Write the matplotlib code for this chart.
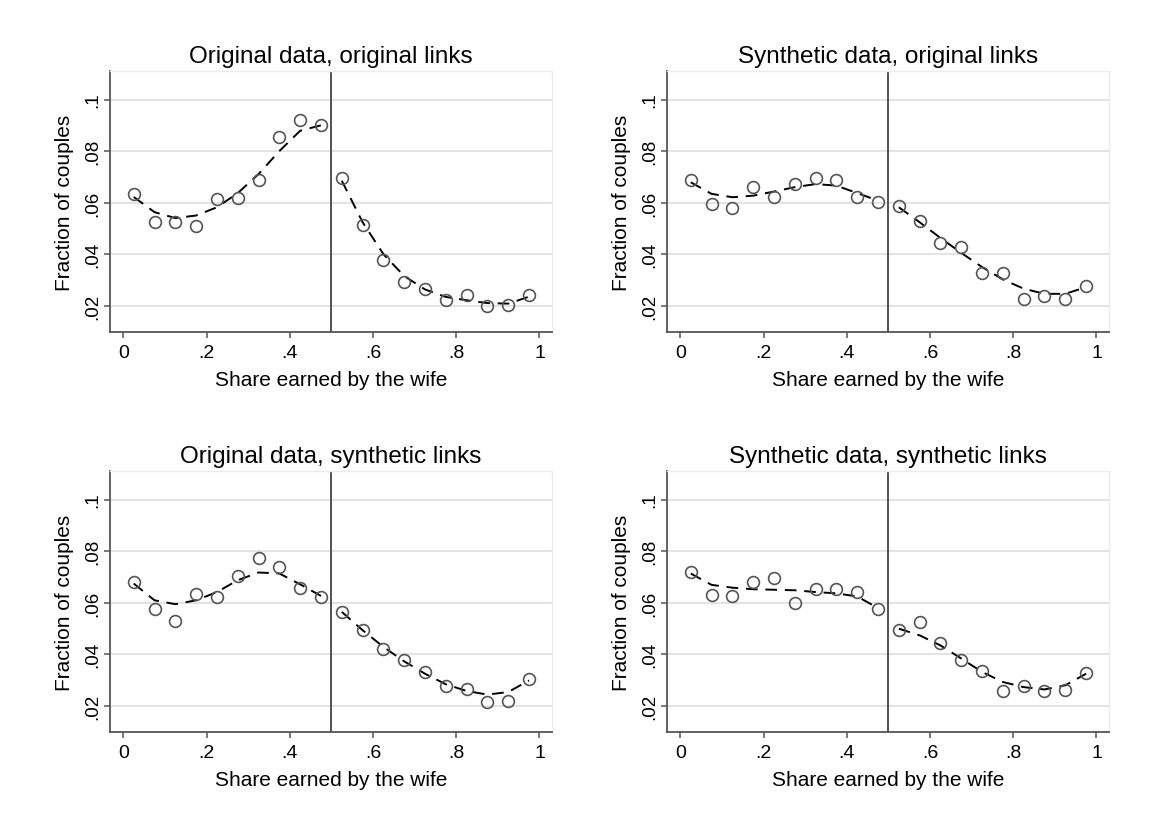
import numpy as np
import matplotlib.pyplot as plt

plt.rcParams['font.family'] = ['Liberation Sans', 'DejaVu Sans']

# bin centres of the wife's earnings share
share = [0.025, 0.075, 0.125, 0.175, 0.225, 0.275, 0.325, 0.375, 0.425, 0.475,
         0.525, 0.575, 0.625, 0.675, 0.725, 0.775, 0.825, 0.875, 0.925, 0.975]

titles = ['Original data, original links', 'Synthetic data, original links',
          'Original data, synthetic links', 'Synthetic data, synthetic links']

# fraction of couples in each bin
orig_orig = [0.0634, 0.0524, 0.0524, 0.0508, 0.0614, 0.0619, 0.0689, 0.0854, 0.0920, 0.0901,
             0.0694, 0.0514, 0.0378, 0.0290, 0.0263, 0.0222, 0.0240, 0.0197, 0.0201, 0.0240]
syn_orig = [0.0688, 0.0594, 0.0578, 0.0662, 0.0621, 0.0671, 0.0697, 0.0689, 0.0622, 0.0604,
            0.0586, 0.0529, 0.0443, 0.0426, 0.0328, 0.0328, 0.0227, 0.0236, 0.0227, 0.0276]
orig_syn = [0.0680, 0.0575, 0.0527, 0.0632, 0.0623, 0.0702, 0.0772, 0.0740, 0.0657, 0.0621,
            0.0565, 0.0493, 0.0419, 0.0379, 0.0331, 0.0275, 0.0266, 0.0214, 0.0217, 0.0305]
syn_syn = [0.0719, 0.0631, 0.0626, 0.0679, 0.0696, 0.0599, 0.0654, 0.0654, 0.0641, 0.0577,
           0.0495, 0.0526, 0.0442, 0.0377, 0.0333, 0.0256, 0.0275, 0.0256, 0.0260, 0.0328]

# fitted curves (separately on each side of 0.5), read at the bin centres
fit_orig_orig = [0.0622, 0.0563, 0.0540, 0.0550, 0.0582, 0.0637, 0.0711, 0.0800, 0.0879, 0.0900,
                 0.0685, 0.0524, 0.0400, 0.0315, 0.0263, 0.0234, 0.0221, 0.0210, 0.0208, 0.0235]
fit_syn_orig = [0.0679, 0.0634, 0.0621, 0.0627, 0.0643, 0.0660, 0.0672, 0.0666, 0.0637, 0.0608,
                0.0582, 0.0524, 0.0463, 0.0405, 0.0350, 0.0302, 0.0266, 0.0246, 0.0246, 0.0272]
fit_orig_syn = [0.0674, 0.0609, 0.0594, 0.0609, 0.0641, 0.0687, 0.0717, 0.0713, 0.0671, 0.0626,
                0.0564, 0.0493, 0.0428, 0.0372, 0.0324, 0.0283, 0.0257, 0.0243, 0.0253, 0.0298]
fit_syn_syn = [0.0713, 0.0669, 0.0658, 0.0652, 0.0650, 0.0648, 0.0641, 0.0636, 0.0624, 0.0579,
               0.0499, 0.0473, 0.0434, 0.0383, 0.0331, 0.0292, 0.0272, 0.0263, 0.0279, 0.0324]

points = [orig_orig, syn_orig, orig_syn, syn_syn]
fits = [fit_orig_orig, fit_syn_orig, fit_orig_syn, fit_syn_syn]

xticks = [0, 0.2, 0.4, 0.6, 0.8, 1.0]
xticklabels = ['0', '.2', '.4', '.6', '.8', '1']
yticks = [0.02, 0.04, 0.06, 0.08, 0.1]
yticklabels = ['.02', '.04', '.06', '.08', '.1']

fig = plt.figure(figsize=(11.53, 8.37), dpi=100)
fig.patch.set_facecolor('white')

lefts = [0.0954, 0.5785, 0.0954, 0.5785]
bottoms = [0.6022, 0.6022, 0.1243, 0.1243]
w, h = 0.3833, 0.3115

x = np.array(share)
for i in range(4):
    ax = fig.add_axes([lefts[i], bottoms[i], w, h])
    ax.set_xlim(-0.032, 1.03)
    ax.set_ylim(0.0098, 0.111)
    ax.set_yticks(yticks)
    ax.set_yticklabels(yticklabels, rotation=90, va='center', fontsize=13.5)
    ax.set_xticks(xticks)
    ax.set_xticklabels(xticklabels, fontsize=14)
    ax.grid(axis='y', color='#e3e3e3', linewidth=1.4)
    ax.set_axisbelow(True)
    for s in ['top', 'right']:
        ax.spines[s].set_color('#ececec')
        ax.spines[s].set_linewidth(1.0)
    for s in ['left', 'bottom']:
        ax.spines[s].set_color('#555555')
        ax.spines[s].set_linewidth(1.3)
    ax.tick_params(direction='out', length=4.5, width=1.1, color='#555555',
                   labelcolor='black')
    ax.tick_params(axis='y', pad=2)
    ax.tick_params(axis='x', pad=4)

    ax.axvline(0.5, color='#444444', linewidth=1.3, zorder=2)

    y = np.array(points[i])
    f = np.array(fits[i])
    left = x < 0.5
    for m in [left, ~left]:
        ax.plot(x[m], f[m], color='black', linewidth=1.4, dashes=(6, 4), zorder=3)
    ax.plot(x, y, linestyle='none', marker='o', markersize=8.5,
            markerfacecolor='none', markeredgecolor='#555555', markeredgewidth=1.2, zorder=4)

    ax.set_title(titles[i], fontsize=17.5, pad=7)
    ax.set_xlabel('Share earned by the wife', fontsize=15, labelpad=7)
    ax.set_ylabel('Fraction of couples', fontsize=15, labelpad=7)

fig.savefig('out.png', dpi=100)
